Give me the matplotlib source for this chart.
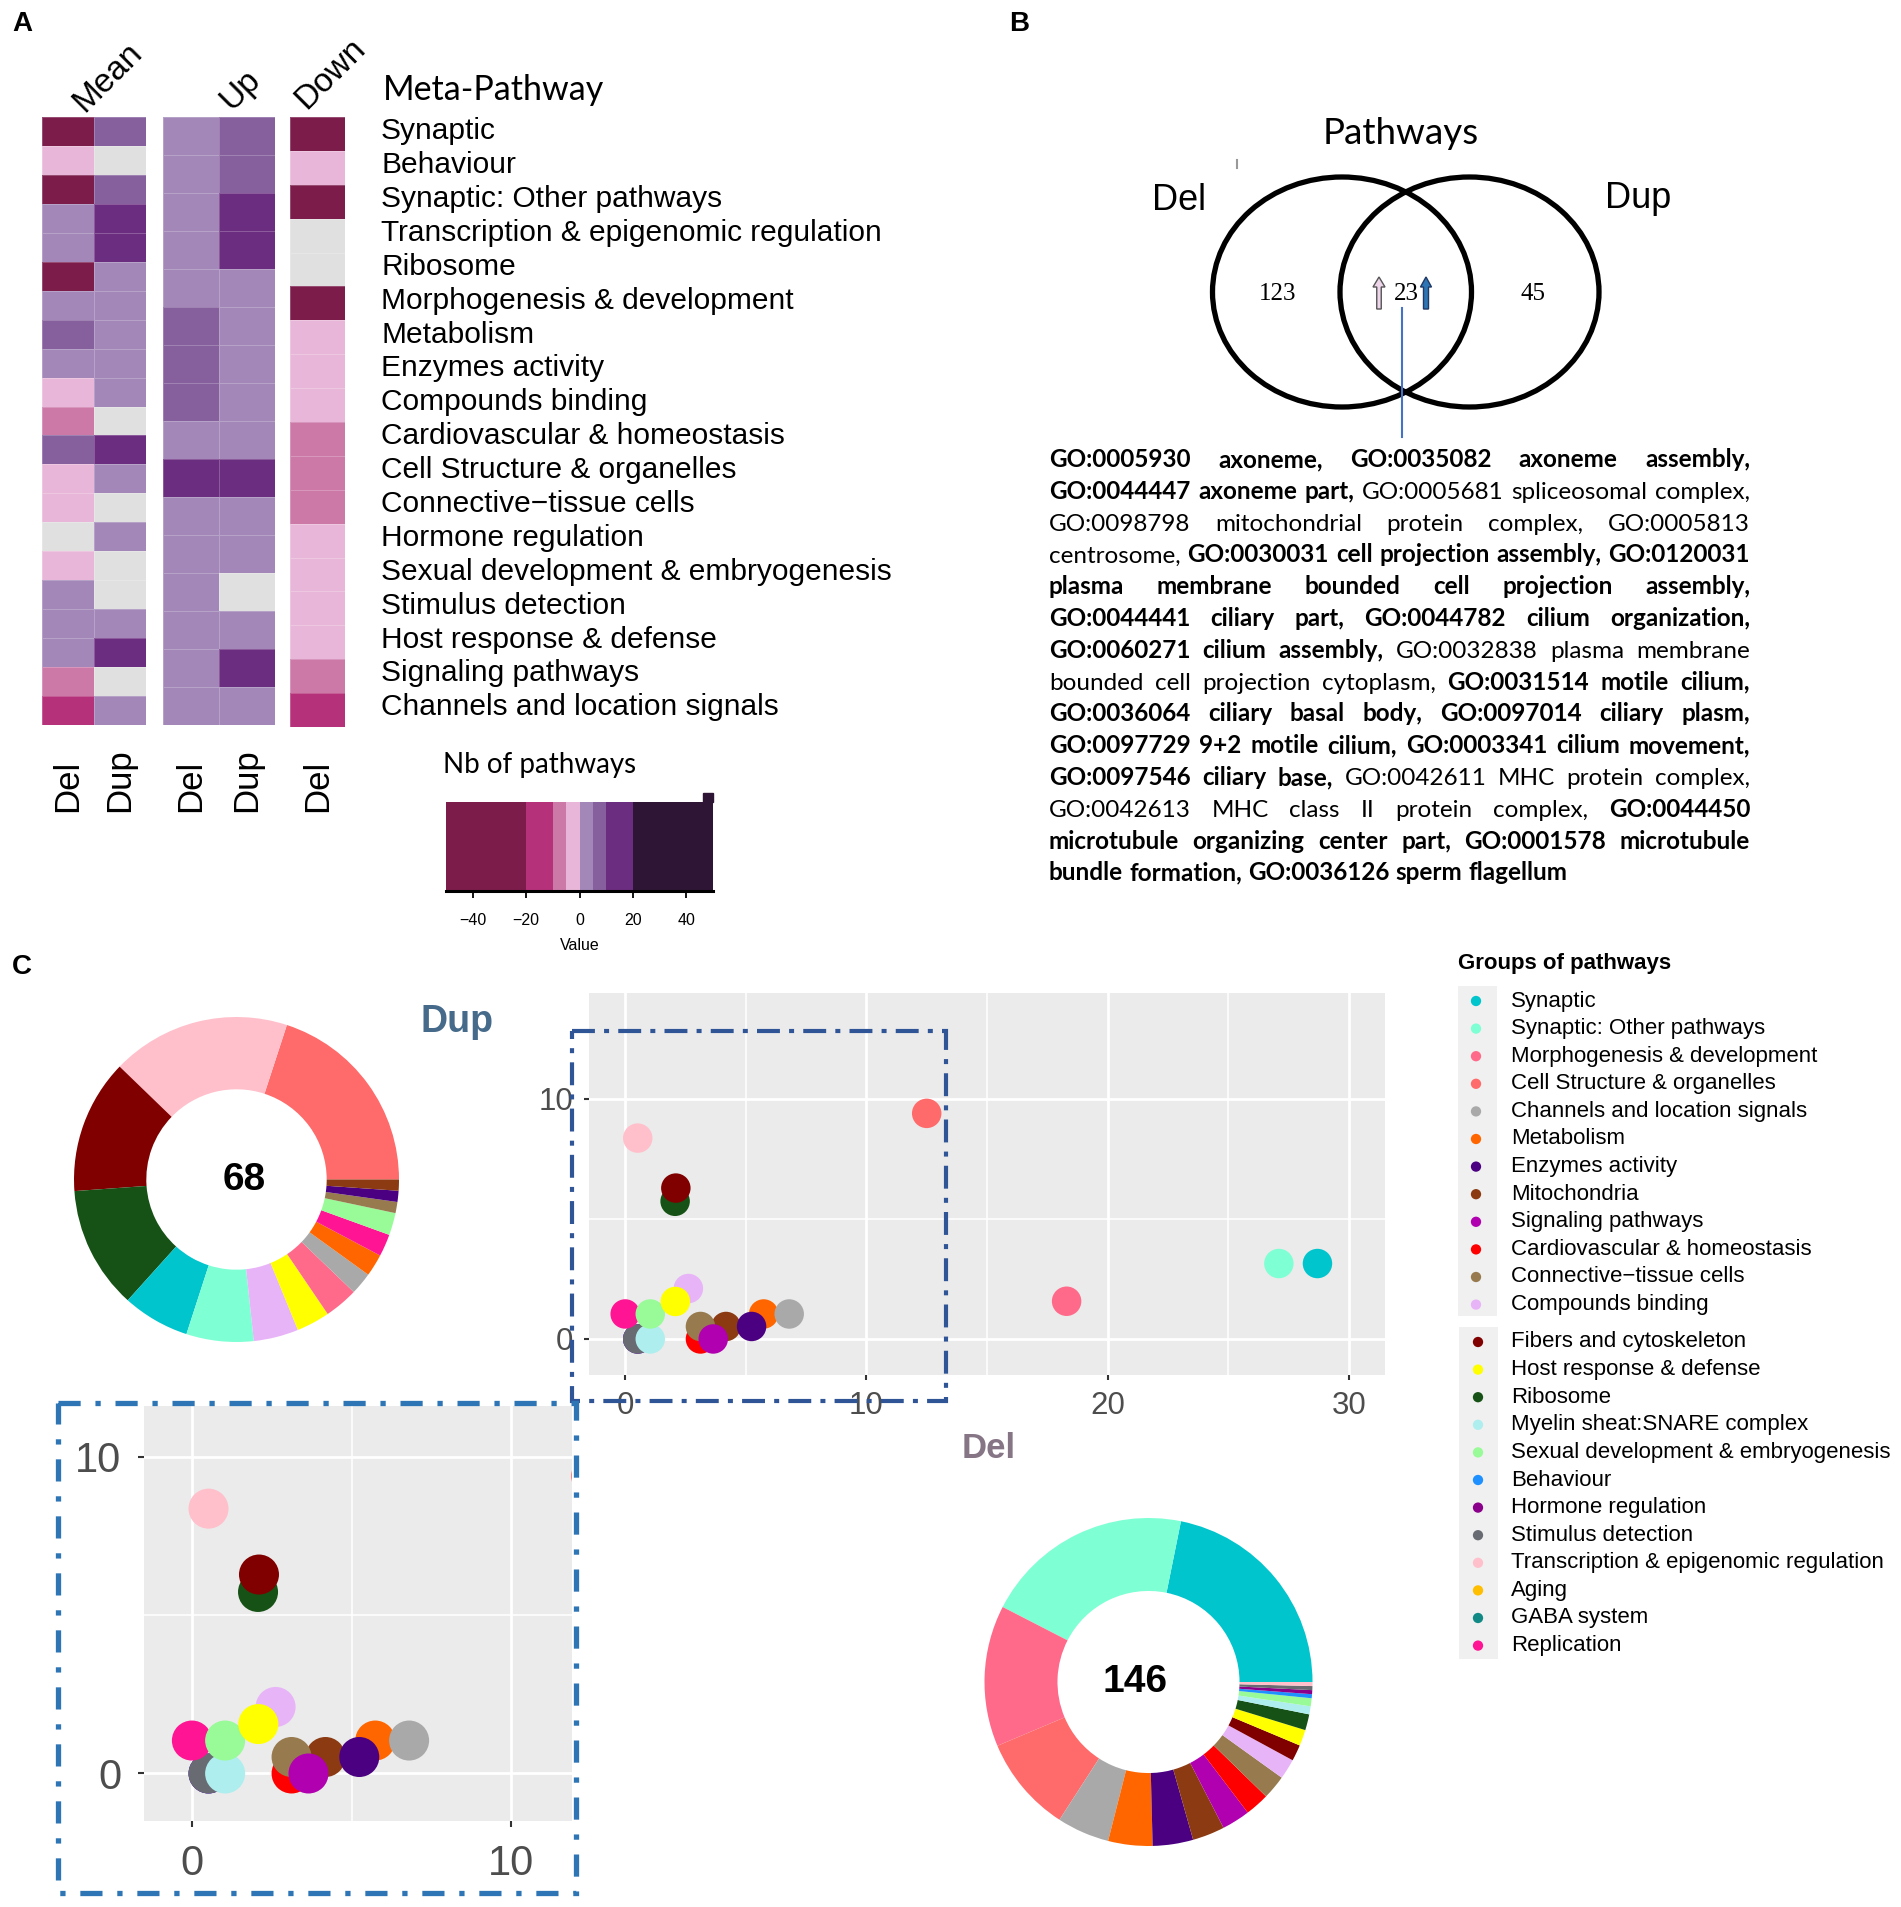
import numpy as np
import matplotlib
matplotlib.use("Agg")
import matplotlib.pyplot as plt
import matplotlib.transforms as mtransforms
from matplotlib.colors import ListedColormap, BoundaryNorm
from matplotlib.cm import ScalarMappable
from matplotlib.patches import Ellipse, Rectangle, FancyArrow

plt.rcParams["font.family"] = ["Liberation Sans", "DejaVu Sans"]

# ── Canvas (pixel sizes of the target picture) ──────────────
W, H = 1901, 1907
nan = np.nan

# ── Panel A data ─────────────────────────────────────────────
meta_pathways = [
    "Synaptic", "Behaviour", "Synaptic: Other pathways",
    "Transcription & epigenomic regulation", "Ribosome",
    "Morphogenesis & development", "Metabolism", "Enzymes activity",
    "Compounds binding", "Cardiovascular & homeostasis",
    "Cell Structure & organelles", "Connective\u2212tissue cells",
    "Hormone regulation", "Sexual development & embryogenesis",
    "Stimulus detection", "Host response & defense",
    "Signaling pathways", "Channels and location signals",
]
# NaN = no value (grey cell)
mean_del = [-30, -2, -30, 2, 2, -30, 2, 7, 2, -2, -7, 7, -2, -2, nan, -2, 2, 2, 2, -7, -15]
mean_dup = [7, nan, 7, 15, 15, 2, 2, 2, 2, 2, nan, 15, 2, nan, 2, nan, nan, 2, 15, nan, 2]
up_del = [2, 2, 2, 2, 2, 7, 7, 7, 2, 15, 2, 2, 2, 2, 2, 2]
up_dup = [7, 7, 15, 15, 2, 2, 2, 2, 2, 15, 2, 2, nan, 2, 15, 2]
down_del = [-30, -2, -30, nan, nan, -30, -2, -2, -2, -7, -7, -7, -2, -2, -2, -2, -7, -15]

cb_bounds = [-50, -20, -10, -5, 0, 5, 10, 20, 50]
cb_colors = ["#7C1C4B", "#B5317A", "#CD79A8", "#E8B6D8",
             "#A287B8", "#86609D", "#6B2D80", "#2E1535"]
cb_ticks = [-40, -20, 0, 20, 40]
na_color = "#E0E0E0"

# ── Panel B data ─────────────────────────────────────────────
venn_counts = [123, 23, 45]
go_lines = [
    [("GO:0005930 axoneme, GO:0035082 axoneme assembly,", 1)],
    [("GO:0044447 axoneme part,", 1), ("GO:0005681 spliceosomal complex,", 0)],
    [("GO:0098798 mitochondrial protein complex, GO:0005813", 0)],
    [("centrosome,", 0), ("GO:0030031 cell projection assembly, GO:0120031", 1)],
    [("plasma membrane bounded cell projection assembly,", 1)],
    [("GO:0044441 ciliary part, GO:0044782 cilium organization,", 1)],
    [("GO:0060271 cilium assembly,", 1), ("GO:0032838 plasma membrane", 0)],
    [("bounded cell projection cytoplasm,", 0), ("GO:0031514 motile cilium,", 1)],
    [("GO:0036064 ciliary basal body, GO:0097014 ciliary plasm,", 1)],
    [("GO:0097729 9+2 motile cilium, GO:0003341 cilium movement,", 1)],
    [("GO:0097546 ciliary base,", 1), ("GO:0042611 MHC protein complex,", 0)],
    [("GO:0042613 MHC class II protein complex,", 0), ("GO:0044450", 1)],
    [("microtubule organizing center part, GO:0001578 microtubule", 1)],
    [("bundle formation, GO:0036126 sperm flagellum", 1)],
]

# ── Panel C data ─────────────────────────────────────────────
groups = [
    "Synaptic", "Synaptic: Other pathways", "Morphogenesis & development",
    "Cell Structure & organelles", "Channels and location signals",
    "Metabolism", "Enzymes activity", "Mitochondria", "Signaling pathways",
    "Cardiovascular & homeostasis", "Connective\u2212tissue cells",
    "Compounds binding", "Fibers and cytoskeleton", "Host response & defense",
    "Ribosome", "Myelin sheat:SNARE complex",
    "Sexual development & embryogenesis", "Behaviour", "Hormone regulation",
    "Stimulus detection", "Transcription & epigenomic regulation", "Aging",
    "GABA system", "Replication",
]
group_colors = [
    "#00C5CD", "#7FFFD4", "#FF6A8A", "#FF6A6A", "#A9A9A9", "#FF6600",
    "#4B0082", "#8B3A12", "#B000B0", "#FF0000", "#977A4E", "#E8B4F8",
    "#800000", "#FFFF00", "#165216", "#AFEEEE", "#98FB98", "#1E90FF",
    "#8B008B", "#696B73", "#FFC0CB", "#FFBF00", "#118A86", "#FF1493",
]
del_pct = [28.7, 27.1, 18.3, 12.5, 6.8, 5.74, 5.24, 4.18, 3.65, 3.12, 3.12, 2.62,
           2.1, 2.08, 2.07, 1.04, 1.04, 0.52, 0.52, 0.52, 0.52, 0, 0, 0]
dup_pct = [3.14, 3.14, 1.57, 9.39, 1.04, 1.04, 0.52, 0.52, 0, 0, 0.52, 2.1,
           6.28, 1.56, 5.73, 0, 1.04, 0, 0, 0, 8.36, 0, 0, 1.04]
del_total, dup_total = 146, 68

del_donut_order = [
    "Synaptic", "Synaptic: Other pathways", "Morphogenesis & development",
    "Cell Structure & organelles", "Channels and location signals",
    "Metabolism", "Enzymes activity", "Mitochondria", "Signaling pathways",
    "Cardiovascular & homeostasis", "Connective\u2212tissue cells",
    "Compounds binding", "Fibers and cytoskeleton", "Host response & defense",
    "Ribosome", "Myelin sheat:SNARE complex",
    "Sexual development & embryogenesis", "Behaviour", "Hormone regulation",
    "Stimulus detection", "Transcription & epigenomic regulation",
]
dup_donut_order = [
    "Cell Structure & organelles", "Transcription & epigenomic regulation",
    "Fibers and cytoskeleton", "Ribosome", "Synaptic",
    "Synaptic: Other pathways", "Compounds binding", "Host response & defense",
    "Morphogenesis & development", "Channels and location signals",
    "Metabolism", "Replication", "Sexual development & embryogenesis",
    "Connective\u2212tissue cells", "Enzymes activity", "Mitochondria",
]
# order the points are painted in (later ones sit on top)
draw_order = [
    "Behaviour", "Hormone regulation", "Stimulus detection",
    "Myelin sheat:SNARE complex", "Replication",
    "Sexual development & embryogenesis", "Ribosome", "Fibers and cytoskeleton",
    "Compounds binding", "Host response & defense",
    "Cardiovascular & homeostasis", "Mitochondria", "Connective\u2212tissue cells",
    "Signaling pathways", "Metabolism", "Channels and location signals",
    "Enzymes activity", "Transcription & epigenomic regulation",
    "Cell Structure & organelles", "Morphogenesis & development",
    "Synaptic: Other pathways", "Synaptic",
]


def box(x0, y0, x1, y1):
    """figure-fraction rect from pixel corners (origin top-left)"""
    return [x0 / W, 1 - y1 / H, (x1 - x0) / W, (y1 - y0) / H]


fig = plt.figure(figsize=(W / 100, H / 100), dpi=100)

# overlay in pixel coordinates for free text / shapes
ov = fig.add_axes([0, 0, 1, 1], zorder=10)
ov.set_xlim(0, W)
ov.set_ylim(H, 0)
ov.axis("off")
ov.patch.set_alpha(0)

# ── Panel A: heatmaps ────────────────────────────────────────
cmap = ListedColormap(cb_colors)
cmap.set_bad(na_color)
norm = BoundaryNorm(cb_bounds, cmap.N)

blocks = [
    ((41.5, 117, 146, 725), [mean_del, mean_dup], ["Del", "Dup"]),
    ((163, 117, 275, 725), [up_del, up_dup], ["Del", "Dup"]),
    ((290, 117, 344.5, 727), [down_del], ["Del"]),
]
for px_box, cols, labs in blocks:
    ax = fig.add_axes(box(*px_box))
    arr = np.ma.masked_invalid(np.column_stack(cols).astype(float))
    ax.set_facecolor(na_color)
    ax.pcolormesh(arr, cmap=cmap, norm=norm, edgecolors=(1, 1, 1, 0.22), linewidth=0.7)
    ax.set_xlim(0, arr.shape[1])
    ax.set_ylim(arr.shape[0], 0)
    ax.axis("off")
    trans = mtransforms.blended_transform_factory(ax.transData, ax.transAxes)
    # labels start at pixel row 812, below the block
    lab_y = (px_box[3] - 812) / (px_box[3] - px_box[1])
    for j, lab in enumerate(labs):
        ax.text(j + 0.5, lab_y, lab, transform=trans, rotation=90,
                rotation_mode="anchor", ha="left", va="center", fontsize=25)
ax_down = ax

trans = mtransforms.blended_transform_factory(ax_down.transAxes, ax_down.transData)
for i, name in enumerate(meta_pathways):
    ax_down.text(1.67, i + 0.42, name, transform=trans, ha="left", va="center",
                 fontsize=21.5)

for txt, x, y in [("Mean", 108, 77), ("Up", 240, 90), ("Down", 330, 74)]:
    ov.text(x, y, txt, rotation=45, rotation_mode="anchor", ha="center",
            va="center", fontsize=24)
ov.text(383, 90, "Meta-Pathway", family="Lato", fontsize=24.5, va="center")

# colour key
cax = fig.add_axes(box(446, 801.7, 713, 890.7))
cb = fig.colorbar(ScalarMappable(norm=norm, cmap=cmap), cax=cax,
                  orientation="horizontal", spacing="proportional",
                  boundaries=cb_bounds, ticks=cb_ticks)
cb.outline.set_visible(False)
cb.minorticks_off()
cax.tick_params(labelsize=11.5, length=5, width=1.3, color="black", pad=11)
cax.set_xticklabels(["\u221240", "\u221220", "0", "20", "40"])
cax.set_xlabel("Value", fontsize=11.5, labelpad=7)
cax.axhline(0, color="black", lw=2.2, clip_on=False)
cax.add_patch(Rectangle((46.2, 1.0), 3.8, 0.1, color=cb_colors[-1], clip_on=False))
ov.text(443, 765, "Nb of pathways", family="Lato", fontsize=20, va="center")

# ── Panel B: Venn + GO list ──────────────────────────────────
ov.add_patch(Ellipse((1342, 292), 259, 230, fill=False, lw=3.8, ec="black"))
ov.add_patch(Ellipse((1469.5, 292), 259, 230, fill=False, lw=3.8, ec="black"))
ov.text(1401, 133, "Pathways", family="Lato", fontsize=26.5, ha="center", va="center")
ov.text(1179, 200, "Del", fontsize=26, ha="center", va="center")
ov.text(1638, 199, "Dup", fontsize=26, ha="center", va="center")
ov.plot([1237, 1237], [160, 168], color="#999999", lw=1.5)
for cnt, x in zip(venn_counts, [1278, 1406, 1533]):
    ov.text(x, 294, str(cnt), family="Liberation Serif", fontsize=18,
            ha="center", va="center")
ov.add_patch(FancyArrow(1379, 309, 0, -32, width=4.5, head_width=12, head_length=10,
                        length_includes_head=True, fc="#EED5EA", ec="#555555", lw=1))
ov.add_patch(FancyArrow(1426, 309, 0, -32, width=5, head_width=11, head_length=10,
                        length_includes_head=True, fc="#2E75B6", ec="#1F3864", lw=1))
ov.plot([1402, 1402], [308, 437], color="#4472C4", lw=1.5)

# justified GO paragraph
renderer = fig.canvas.get_renderer()
go_left, go_right = 1049, 1750


def text_w(s, bold, size):
    t = ov.text(0, 0, s, family="Lato", fontsize=size,
                fontweight="bold" if bold else "normal")
    w = t.get_window_extent(renderer).width
    t.remove()
    return w


words_per_line = []
for line in go_lines:
    ws = []
    for seg, bold in line:
        ws += [(w, bold) for w in seg.split()]
    words_per_line.append(ws)

space10 = text_w("a a", 0, 10) - 2 * text_w("a", 0, 10)
nat = [sum(text_w(w, b, 10) for w, b in ws) + (len(ws) - 1) * space10
       for ws in words_per_line]
go_size = min(10 * (go_right - go_left) / max(nat), 17.5)
space = space10 * go_size / 10

for k, ws in enumerate(words_per_line):
    y = 467 + k * 31.8
    widths = [text_w(w, b, go_size) for w, b in ws]
    if k < len(words_per_line) - 1 and len(ws) > 1:
        gap = (go_right - go_left - sum(widths)) / (len(ws) - 1)
    else:
        gap = space
    x = go_left
    for (w, b), wd in zip(ws, widths):
        ov.text(x, y, w, family="Lato", fontsize=go_size, va="baseline",
                fontweight="bold" if b else "normal")
        x += wd + gap

# ── Panel C: donuts ──────────────────────────────────────────
def donut(cx, cy, r, order, vals, total, dx):
    pad = r + 8
    ax = fig.add_axes(box(cx - pad, cy - pad, cx + pad, cy + pad))
    idx = [groups.index(n) for n in order]
    ax.pie([vals[i] for i in idx], colors=[group_colors[i] for i in idx],
           startangle=0, counterclock=True, radius=1,
           wedgeprops=dict(width=0.445, linewidth=0))
    ax.set_xlim(-pad / r, pad / r)
    ax.set_ylim(-pad / r, pad / r)
    ax.axis("off")
    ax.text(dx, 0, str(total), fontsize=28, fontweight="bold", ha="center", va="center")


donut(236.5, 1179.5, 162.5, dup_donut_order, dup_pct, dup_total, 0.05)
donut(1148.5, 1682, 164, del_donut_order, del_pct, del_total, -0.08)

ov.text(457, 1022, "Dup", fontsize=27, fontweight="bold", color="#456A8A",
        ha="center", va="center")
ov.text(989, 1448, "Del", fontsize=25, fontweight="bold", color="#857585",
        ha="center", va="center")

# ── Panel C: scatter plots ───────────────────────────────────
order_idx = [groups.index(n) for n in draw_order]
px = [del_pct[i] for i in order_idx]
py = [dup_pct[i] for i in order_idx]
pc = [group_colors[i] for i in order_idx]


def gg_scatter(rect, xlim, ylim, xt, yt, xm, ym, msize, lsize, tlen, pad):
    ax = fig.add_axes(rect)
    ax.set_facecolor("#EBEBEB")
    ax.scatter(px, py, s=msize, c=pc, edgecolors="none", zorder=3)
    ax.set_xlim(*xlim)
    ax.set_ylim(*ylim)
    ax.set_xticks(xt)
    ax.set_yticks(yt)
    ax.set_xticks(xm, minor=True)
    ax.set_yticks(ym, minor=True)
    ax.grid(which="major", color="white", lw=2.0)
    ax.grid(which="minor", color="white", lw=1.1)
    ax.set_axisbelow(True)
    for s in ax.spines.values():
        s.set_visible(False)
    ax.tick_params(which="minor", length=0)
    ax.tick_params(which="major", labelsize=lsize, labelcolor="#4D4D4D",
                   color="#333333", length=tlen, width=1.5, pad=pad)
    return ax


gg_scatter(box(589, 993, 1385, 1375), (-1.5, 31.5), (-1.5, 14.4),
           [0, 10, 20, 30], [0, 10], [5, 15, 25], [5], 450, 22.5, 3.5, 8)
gg_scatter(box(144, 1406, 572, 1821), (-1.5, 11.9), (-1.5, 11.6),
           [0, 10], [0, 10], [5], [5], 830, 30, 4.5, 12)

# zoom frames
ov.add_patch(Rectangle((572, 1031), 374, 370, fill=False, ec="#2F5597", lw=3,
                       ls=(0, (5.5, 2.2, 1.2, 2.2))))
ov.add_patch(Rectangle((58, 1403), 518, 490, fill=False, ec="#2E75B6", lw=3.8,
                       ls=(0, (4.2, 2.8, 1.0, 2.8))))

# ── Panel C: legend ──────────────────────────────────────────
ov.text(1458, 964, "Groups of pathways", fontsize=16, fontweight="bold", va="center")
ov.add_patch(Rectangle((1458, 986), 39, 330, color="#F0F0F0", lw=0))
ov.add_patch(Rectangle((1459, 1327), 39, 332, color="#F0F0F0", lw=0))
for i, (name, col) in enumerate(zip(groups, group_colors)):
    if i < 12:
        y, x = 1001 + i * 27.6, 1476
    else:
        y, x = 1342 + (i - 12) * 27.6, 1478
    ov.scatter([x], [y], s=55, color=col, edgecolors="none")
    ov.text(1511, y, name, fontsize=16, va="center")

# ── Panel letters ────────────────────────────────────────────
for lab, x, y in [("A", 22, 24), ("B", 1019, 24), ("C", 22, 967)]:
    ov.text(x, y, lab, fontsize=20, fontweight="bold", ha="center", va="center")

fig.savefig("out.png", dpi=100)
